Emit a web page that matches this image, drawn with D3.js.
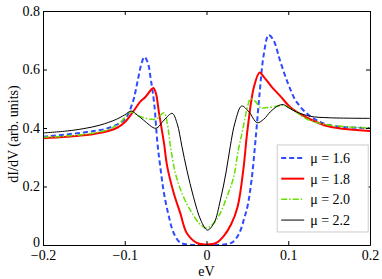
<!DOCTYPE html>
<html>
<head>
<meta charset="utf-8">
<script src="https://cdn.jsdelivr.net/npm/d3@7"></script>
<style>
  body { margin: 0; background: #fff; }
  text { font-family: "Liberation Serif", "DejaVu Serif", serif; }
</style>
</head>
<body>
<div class="chart"></div>
<script>
// data
const xTicks = [-0.2, -0.1, 0, 0.1, 0.2];
const yTicks = [0, 0.2, 0.4, 0.6, 0.8];
const xTickLabels = ["\u22120.2", "\u22120.1", "0", "0.1", "0.2"];
const yTickLabels = ["0", "0.2", "0.4", "0.6", "0.8"];
const muLabels = ["\u03bc = 1.6", "\u03bc = 1.8", "\u03bc = 2.0", "\u03bc = 2.2"];

const mu16 = [[-0.2, 0.37], [-0.15, 0.385], [-0.12, 0.40], [-0.1, 0.43], [-0.09, 0.49], [-0.085, 0.55],
  [-0.08, 0.615], [-0.076, 0.643], [-0.072, 0.625], [-0.068, 0.564], [-0.064, 0.484], [-0.06, 0.348],
  [-0.056, 0.256], [-0.052, 0.177], [-0.046, 0.097], [-0.04, 0.04], [-0.032, 0.008], [-0.02, 0.001],
  [0, 0], [0.02, 0.001], [0.032, 0.01], [0.04, 0.04], [0.046, 0.09], [0.05, 0.13], [0.055, 0.22],
  [0.06, 0.36], [0.065, 0.52], [0.07, 0.65], [0.076, 0.718], [0.082, 0.70], [0.09, 0.63], [0.1, 0.55],
  [0.11, 0.49], [0.127, 0.44], [0.15, 0.41], [0.2, 0.40]];
const mu18 = [[-0.2, 0.365], [-0.15, 0.375], [-0.12, 0.39], [-0.11, 0.40], [-0.1, 0.42], [-0.09, 0.455],
  [-0.081, 0.49], [-0.075, 0.505], [-0.068, 0.53], [-0.065, 0.537], [-0.062, 0.52], [-0.058, 0.45],
  [-0.052, 0.348], [-0.048, 0.268], [-0.04, 0.177], [-0.032, 0.108], [-0.024, 0.04], [-0.011, 0.006],
  [0, 0.002], [0.012, 0.007], [0.021, 0.03], [0.03, 0.07], [0.038, 0.13], [0.045, 0.256], [0.05, 0.39],
  [0.058, 0.54], [0.065, 0.59], [0.07, 0.575], [0.08, 0.54], [0.09, 0.51], [0.103, 0.47], [0.123, 0.435],
  [0.15, 0.405], [0.2, 0.39]];
const mu20 = [[-0.2, 0.368], [-0.15, 0.378], [-0.12, 0.395], [-0.105, 0.42], [-0.093, 0.455],
  [-0.081, 0.439], [-0.062, 0.43], [-0.052, 0.452], [-0.048, 0.416], [-0.044, 0.336], [-0.038, 0.245],
  [-0.03, 0.177], [-0.02, 0.12], [-0.009, 0.074], [0, 0.058], [0.009, 0.075], [0.017, 0.11],
  [0.025, 0.165], [0.033, 0.23], [0.039, 0.325], [0.044, 0.39], [0.05, 0.47], [0.054, 0.5], [0.06, 0.49],
  [0.066, 0.47], [0.075, 0.47], [0.087, 0.475], [0.094, 0.478], [0.107, 0.46], [0.123, 0.43],
  [0.15, 0.41], [0.2, 0.40]];
const mu22 = [[-0.2, 0.383], [-0.17, 0.39], [-0.15, 0.398], [-0.13, 0.41], [-0.11, 0.43], [-0.1, 0.445],
  [-0.092, 0.458], [-0.085, 0.445], [-0.077, 0.427], [-0.062, 0.399], [-0.052, 0.427], [-0.042, 0.45],
  [-0.036, 0.416], [-0.03, 0.336], [-0.024, 0.256], [-0.016, 0.165], [-0.007, 0.085], [0.001, 0.051],
  [0.009, 0.074], [0.017, 0.154], [0.024, 0.25], [0.029, 0.336], [0.035, 0.42], [0.043, 0.475],
  [0.052, 0.455], [0.062, 0.418], [0.07, 0.43], [0.078, 0.455], [0.087, 0.475], [0.094, 0.48],
  [0.1, 0.47], [0.11, 0.455], [0.127, 0.44], [0.15, 0.435], [0.2, 0.433]];

const seriesData = [mu16, mu18, mu20, mu22];
const seriesStyle = [
  { color: "#2f4bff", width: 2, dash: "5,3" },
  { color: "#ff0000", width: 2, dash: null },
  { color: "#66e000", width: 1.5, dash: "6,2,1.5,2" },
  { color: "#000000", width: 1, dash: null }
];

const svgWidth = 382;
const svgHeight = 279;
const margin = { top: 11, right: 12, bottom: 34, left: 43 };
const width = svgWidth - margin.left - margin.right;
const height = svgHeight - margin.top - margin.bottom;
const fontSize = 14;

const svg = d3.select(".chart")
  .append("svg")
  .attr("width", svgWidth)
  .attr("height", svgHeight);

const chartGroup = svg.append("g")
  .attr("transform", `translate(${margin.left}, ${margin.top})`);

// scales
const xScale = d3.scaleLinear().domain([-0.2, 0.2]).range([0, width]);
const yScale = d3.scaleLinear().domain([0, 0.8]).range([height, 0]);

// clip to plot area
svg.append("defs").append("clipPath").attr("id", "clip")
  .append("rect").attr("width", width).attr("height", height);

const line = d3.line()
  .x(d => xScale(d[0]))
  .y(d => yScale(d[1]))
  .curve(d3.curveCatmullRom.alpha(0.5));

const lines = chartGroup.append("g").attr("clip-path", "url(#clip)");
seriesData.forEach((s, i) => {
  lines.append("path")
    .attr("d", line(s))
    .attr("fill", "none")
    .attr("stroke", seriesStyle[i].color)
    .attr("stroke-width", seriesStyle[i].width)
    .attr("stroke-dasharray", seriesStyle[i].dash);
});

// axes, matlab style with inward ticks on all sides
const xBottom = d3.axisBottom(xScale).tickValues(xTicks)
  .tickFormat((d, i) => xTickLabels[i]).tickSizeInner(-4).tickSizeOuter(0).tickPadding(5);
const xTop = d3.axisTop(xScale).tickValues(xTicks).tickFormat("").tickSizeInner(-4).tickSizeOuter(0);
const yLeft = d3.axisLeft(yScale).tickValues(yTicks)
  .tickFormat((d, i) => yTickLabels[i]).tickSizeInner(-4).tickSizeOuter(0).tickPadding(3);
const yRight = d3.axisRight(yScale).tickValues(yTicks).tickFormat("").tickSizeInner(-4).tickSizeOuter(0);

const axisGroups = [
  chartGroup.append("g").attr("transform", `translate(0, ${height})`).call(xBottom),
  chartGroup.append("g").call(xTop),
  chartGroup.append("g").call(yLeft),
  chartGroup.append("g").attr("transform", `translate(${width}, 0)`).call(yRight)
];
axisGroups.forEach(g => {
  g.selectAll("path").attr("stroke", "#000").attr("stroke-width", 1);
  g.selectAll("line").attr("stroke", "#000");
  g.selectAll("text").attr("font-size", fontSize).attr("fill", "#000")
    .style("font-family", "'Liberation Serif', serif");
});
// lift the bottom "0" a touch so it clears the -0.2 label
axisGroups[2].selectAll("text").filter(d => d === 0).attr("dy", "0.1em");

// axis titles
chartGroup.append("text")
  .attr("x", width / 2)
  .attr("y", height + 31)
  .attr("text-anchor", "middle")
  .attr("font-size", fontSize)
  .text("eV");

chartGroup.append("text")
  .attr("transform", `translate(-25, ${height / 2 + 6}) rotate(-90)`)
  .attr("text-anchor", "middle")
  .attr("font-size", fontSize)
  .text("dI/dV (arb. units)");

// legend
const legend = chartGroup.append("g")
  .attr("transform", `translate(${xScale(0.0865)}, ${yScale(0.342)})`);

legend.append("rect")
  .attr("width", 91)
  .attr("height", 87)
  .attr("fill", "#fff")
  .attr("stroke", "#ccc")
  .attr("stroke-width", 1);

muLabels.forEach((label, i) => {
  const yy = 13 + i * 20.7;
  legend.append("line")
    .attr("x1", 4).attr("x2", 27)
    .attr("y1", yy).attr("y2", yy)
    .attr("stroke", seriesStyle[i].color)
    .attr("stroke-width", seriesStyle[i].width)
    .attr("stroke-dasharray", seriesStyle[i].dash);
  legend.append("text")
    .attr("x", 33)
    .attr("y", yy + 5)
    .attr("font-size", fontSize)
    .text(label);
});
</script>
</body>
</html>
